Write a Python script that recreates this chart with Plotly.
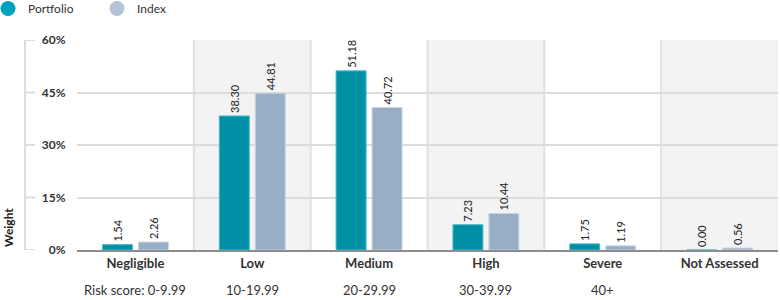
import plotly.graph_objects as go

categories = ["Negligible", "Low", "Medium", "High", "Severe", "Not Assessed"]
risk_ranges = ["Risk score: 0-9.99", "10-19.99", "20-29.99", "30-39.99", "40+", ""]
portfolio = [1.54, 38.30, 51.18, 7.23, 1.75, 0.00]
index_vals = [2.26, 44.81, 40.72, 10.44, 1.19, 0.56]
y_ticks = [0, 15, 30, 45, 60]
y_tick_labels = ["0%", "15%", "30%", "45%", "60%"]

W, H = 780, 300
ml, mr, mt, mb = 25, 2, 40, 50
plot_w = W - ml - mr
plot_h = H - mt - mb
x_start = (77 - ml) / plot_w

FONT = "Lato"
TEAL = "#0090a6"
STEEL = "#98aec5"
AXIS_GREY = "#dcdcdc"

fig = go.Figure()
fig.add_bar(
    x=categories, y=portfolio, name="Portfolio",
    marker=dict(color=TEAL, line=dict(color="#4fb8c9", width=1)),
    text=[f"{v:.2f}" for v in portfolio], textposition="outside", textangle=-90,
    textfont=dict(size=11, color="#222222", family=FONT), cliponaxis=False,
    showlegend=False,
)
fig.add_bar(
    x=categories, y=index_vals, name="Index",
    marker=dict(color=STEEL, line=dict(color="#c9d5e2", width=1)),
    text=[f"{v:.2f}" for v in index_vals], textposition="outside", textangle=-90,
    textfont=dict(size=11, color="#222222", family=FONT), cliponaxis=False,
    showlegend=False,
)
# legend entries with circle symbols
fig.add_scatter(x=[None], y=[None], mode="markers", name="Portfolio",
                marker=dict(symbol="circle", size=15, color="#00a3bf"))
fig.add_scatter(x=[None], y=[None], mode="markers", name="Index",
                marker=dict(symbol="circle", size=15, color="#b3c4d6"))

shapes = []
for i in range(len(categories)):
    if i % 2 == 1:
        shapes.append(dict(type="rect", xref="x", yref="y domain", x0=i - 0.5, x1=i + 0.5,
                           y0=0, y1=1, fillcolor="#f3f3f3", line=dict(width=0), layer="below"))
for i in range(len(categories) - 1):
    shapes.append(dict(type="line", xref="x", yref="y domain", x0=i + 0.5, x1=i + 0.5,
                       y0=0, y1=1, line=dict(color="#e0e0e0", width=2), layer="below"))
# decorative left axis line with short inward ticks
shapes.append(dict(type="line", xref="paper", yref="y domain", x0=0, x1=0, y0=0, y1=1,
                   line=dict(color=AXIS_GREY, width=2)))
for t in y_ticks:
    shapes.append(dict(type="line", xref="paper", yref="y", x0=0, x1=10 / plot_w,
                       y0=t, y1=t, line=dict(color=AXIS_GREY, width=2)))

annotations = []
for i, r in enumerate(risk_ranges):
    if r:
        annotations.append(dict(x=categories[i], xref="x", y=0, yref="paper", yshift=-40,
                                text=r, showarrow=False, yanchor="middle",
                                font=dict(size=13, color="#333333", family=FONT)))
annotations.append(dict(text="Weight", textangle=-90, xref="paper", x=0, xshift=-17,
                        yref="paper", y=22 / plot_h, showarrow=False,
                        xanchor="center", yanchor="middle",
                        font=dict(size=12, color="#222222", family=FONT, weight="bold")))

fig.update_layout(
    width=W, height=H,
    margin=dict(l=ml, r=mr, t=mt, b=mb, autoexpand=False),
    paper_bgcolor="white", plot_bgcolor="white",
    barmode="group", bargap=0.384, bargroupgap=0.167,
    font=dict(family=FONT, color="#333333"),
    shapes=shapes, annotations=annotations,
    legend=dict(orientation="h", x=-(ml + 12) / plot_w, y=1 + (mt + 6) / plot_h,
                xanchor="left", yanchor="top",
                font=dict(size=12, color="#333333", family=FONT),
                bgcolor="rgba(0,0,0,0)", itemwidth=30, entrywidth=64,
                entrywidthmode="pixels"),
    xaxis=dict(domain=[x_start, 1], range=[-0.5, len(categories) - 0.5],
               showgrid=False, showline=True, linecolor="#8c8c8c", linewidth=2,
               ticks="", tickfont=dict(size=13, color="#333333", family=FONT, weight="bold"),
               fixedrange=True, automargin=False),
    yaxis=dict(range=[0, 60], showline=False,
               ticks="outside", ticklen=8, tickcolor="rgba(0,0,0,0)",
               tickvals=y_ticks, ticktext=y_tick_labels,
               tickfont=dict(size=12, color="#333333", family=FONT, weight="bold"),
               showgrid=True, gridcolor="#dcdcdc", gridwidth=1.5, zeroline=False,
               fixedrange=True, automargin=False),
)

fig.write_html("out.html")
